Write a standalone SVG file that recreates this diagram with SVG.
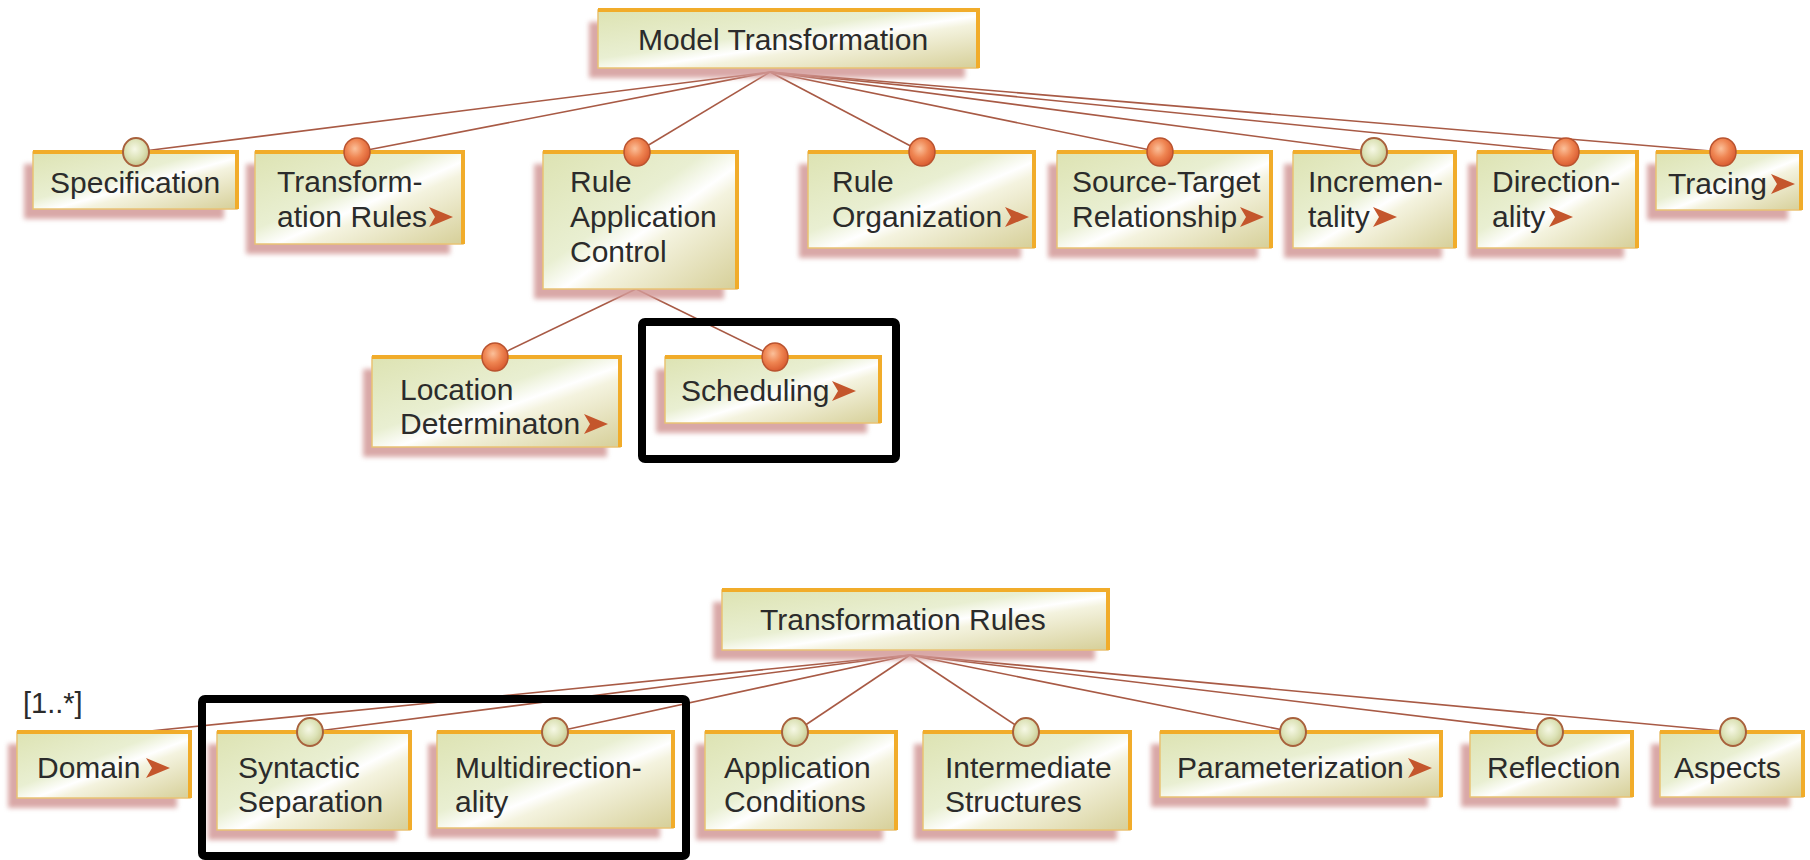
<svg xmlns="http://www.w3.org/2000/svg" xmlns:xlink="http://www.w3.org/1999/xlink" width="1810" height="860" viewBox="0 0 1810 860">
<defs>
<linearGradient id="gbox" x1="0" y1="0" x2="1" y2="1">
<stop offset="0" stop-color="#dde3b2"/>
<stop offset="0.42" stop-color="#e9efd2"/>
<stop offset="0.55" stop-color="#ffffff"/>
<stop offset="0.62" stop-color="#f4f3df"/>
<stop offset="1" stop-color="#d6cf98"/>
</linearGradient>
<radialGradient id="gor" cx="0.42" cy="0.38" r="0.65">
<stop offset="0" stop-color="#fbc09a"/>
<stop offset="0.5" stop-color="#ef8552"/>
<stop offset="1" stop-color="#d8592e"/>
</radialGradient>
<radialGradient id="glt" cx="0.45" cy="0.4" r="0.65">
<stop offset="0" stop-color="#f6f8e6"/>
<stop offset="0.55" stop-color="#dce2b6"/>
<stop offset="1" stop-color="#c3c188"/>
</radialGradient>
<filter id="blur" x="-10%" y="-20%" width="120%" height="140%">
<feGaussianBlur stdDeviation="2.5"/>
</filter>
<path id="arr" d="M0,-10 L24,0 L0,10 L6,0 Z"/>
</defs>
<style>
.sh{fill:#d39a98;opacity:0.85;filter:url(#blur)}
.bx{fill:url(#gbox);stroke:#e9c274;stroke-width:1.5}
.tr{fill:none;stroke:#f1ac2a;stroke-width:4}
.or{fill:url(#gor);stroke:#b9532f;stroke-width:1.5}
.lt{fill:url(#glt);stroke:#a8613c;stroke-width:2}
.t{font-family:"Liberation Sans",Arial,sans-serif;font-size:30px;fill:#2b2b2b}
.ar{fill:#c4562c}
.cn line{stroke:#a85a45;stroke-width:1.6}
.hl{fill:none;stroke:#000;stroke-width:8}
</style>
<rect width="1810" height="860" fill="#ffffff"/>

<g id="connectors" class="cn">
<line x1="770" y1="72" x2="136" y2="152"/>
<line x1="770" y1="72" x2="357" y2="152"/>
<line x1="770" y1="72" x2="637" y2="152"/>
<line x1="770" y1="72" x2="922" y2="152"/>
<line x1="770" y1="72" x2="1160" y2="152"/>
<line x1="770" y1="72" x2="1374" y2="152"/>
<line x1="770" y1="72" x2="1566" y2="152"/>
<line x1="770" y1="72" x2="1723" y2="152"/>
<line x1="636" y1="289" x2="495" y2="357"/>
<line x1="636" y1="289" x2="775" y2="357"/>
<line x1="910" y1="655" x2="140" y2="732"/>
<line x1="910" y1="655" x2="310" y2="732"/>
<line x1="910" y1="655" x2="555" y2="732"/>
<line x1="910" y1="655" x2="795" y2="732"/>
<line x1="910" y1="655" x2="1026" y2="732"/>
<line x1="910" y1="655" x2="1293" y2="732"/>
<line x1="910" y1="655" x2="1550" y2="732"/>
<line x1="910" y1="655" x2="1733" y2="732"/>
</g>

<g id="n-model-transformation">
<rect class="sh" x="589" y="22" width="376" height="56"/>
<rect class="bx" x="598" y="10" width="380" height="58"/>
<path class="tr" d="M598,10 H978 V68"/>
<text class="t" x="638" y="50">Model Transformation</text>
</g>

<g id="n-specification">
<rect class="sh" x="24" y="164" width="200" height="55"/>
<rect class="bx" x="33" y="152" width="204" height="57"/>
<path class="tr" d="M33,152 H237 V209"/>
<ellipse class="lt" cx="136" cy="152" rx="13" ry="14"/>
<text class="t" x="50" y="193">Specification</text>
</g>

<g id="n-transformation-rules-top">
<rect class="sh" x="246" y="164" width="204" height="90"/>
<rect class="bx" x="255" y="152" width="208" height="92"/>
<path class="tr" d="M255,152 H463 V244"/>
<ellipse class="or" cx="357" cy="152" rx="13" ry="14"/>
<text class="t" x="277" y="192">Transform-</text>
<text class="t" x="277" y="227">ation Rules</text>
<use href="#arr" class="ar" x="429" y="217"/>
</g>

<g id="n-rule-application-control">
<rect class="sh" x="534" y="164" width="190" height="135"/>
<rect class="bx" x="543" y="152" width="194" height="137"/>
<path class="tr" d="M543,152 H737 V289"/>
<ellipse class="or" cx="637" cy="152" rx="13" ry="14"/>
<text class="t" x="570" y="192">Rule</text>
<text class="t" x="570" y="227">Application</text>
<text class="t" x="570" y="262">Control</text>
</g>

<g id="n-rule-organization">
<rect class="sh" x="799" y="164" width="222" height="94"/>
<rect class="bx" x="808" y="152" width="226" height="96"/>
<path class="tr" d="M808,152 H1034 V248"/>
<ellipse class="or" cx="922" cy="152" rx="13" ry="14"/>
<text class="t" x="832" y="192">Rule</text>
<text class="t" x="832" y="227">Organization</text>
<use href="#arr" class="ar" x="1005" y="217"/>
</g>

<g id="n-source-target">
<rect class="sh" x="1048" y="164" width="210" height="94"/>
<rect class="bx" x="1057" y="152" width="214" height="96"/>
<path class="tr" d="M1057,152 H1271 V248"/>
<ellipse class="or" cx="1160" cy="152" rx="13" ry="14"/>
<text class="t" x="1072" y="192">Source-Target</text>
<text class="t" x="1072" y="227">Relationship</text>
<use href="#arr" class="ar" x="1240" y="217"/>
</g>

<g id="n-incrementality">
<rect class="sh" x="1284" y="164" width="158" height="94"/>
<rect class="bx" x="1293" y="152" width="162" height="96"/>
<path class="tr" d="M1293,152 H1455 V248"/>
<ellipse class="lt" cx="1374" cy="152" rx="13" ry="14"/>
<text class="t" x="1308" y="192">Incremen-</text>
<text class="t" x="1308" y="227">tality</text>
<use href="#arr" class="ar" x="1373" y="217"/>
</g>

<g id="n-directionality">
<rect class="sh" x="1468" y="164" width="156" height="94"/>
<rect class="bx" x="1477" y="152" width="160" height="96"/>
<path class="tr" d="M1477,152 H1637 V248"/>
<ellipse class="or" cx="1566" cy="152" rx="13" ry="14"/>
<text class="t" x="1492" y="192">Direction-</text>
<text class="t" x="1492" y="227">ality</text>
<use href="#arr" class="ar" x="1549" y="217"/>
</g>

<g id="n-tracing">
<rect class="sh" x="1647" y="164" width="141" height="56"/>
<rect class="bx" x="1656" y="152" width="145" height="58"/>
<path class="tr" d="M1656,152 H1801 V210"/>
<ellipse class="or" cx="1723" cy="152" rx="13" ry="14"/>
<text class="t" x="1668" y="194">Tracing</text>
<use href="#arr" class="ar" x="1771" y="184"/>
</g>

<g id="n-location-determination">
<rect class="sh" x="363" y="369" width="244" height="88"/>
<rect class="bx" x="372" y="357" width="248" height="90"/>
<path class="tr" d="M372,357 H620 V447"/>
<ellipse class="or" cx="495" cy="357" rx="13" ry="14"/>
<text class="t" x="400" y="400">Location</text>
<text class="t" x="400" y="434">Determinaton</text>
<use href="#arr" class="ar" x="584" y="424"/>
</g>

<g id="n-scheduling">
<rect class="sh" x="656" y="369" width="211" height="64"/>
<rect class="bx" x="665" y="357" width="215" height="66"/>
<path class="tr" d="M665,357 H880 V423"/>
<ellipse class="or" cx="775" cy="357" rx="13" ry="14"/>
<text class="t" x="681" y="401">Scheduling</text>
<use href="#arr" class="ar" x="832" y="391"/>
</g>

<g id="n-transformation-rules">
<rect class="sh" x="713" y="602" width="382" height="58"/>
<rect class="bx" x="722" y="590" width="386" height="60"/>
<path class="tr" d="M722,590 H1108 V650"/>
<text class="t" x="760" y="630">Transformation Rules</text>
</g>

<g id="multiplicity">
<text class="t" x="23" y="713" style="font-size:29px">[1..*]</text>
</g>

<g id="n-domain">
<rect class="sh" x="8" y="744" width="169" height="64"/>
<rect class="bx" x="17" y="732" width="173" height="66"/>
<path class="tr" d="M17,732 H190 V798"/>
<text class="t" x="37" y="778">Domain</text>
<use href="#arr" class="ar" x="146" y="768"/>
</g>

<g id="n-syntactic-separation">
<rect class="sh" x="208" y="744" width="189" height="96"/>
<rect class="bx" x="217" y="732" width="193" height="98"/>
<path class="tr" d="M217,732 H410 V830"/>
<ellipse class="lt" cx="310" cy="732" rx="13" ry="14"/>
<text class="t" x="238" y="778">Syntactic</text>
<text class="t" x="238" y="812">Separation</text>
</g>

<g id="n-multidirectionality">
<rect class="sh" x="428" y="744" width="232" height="94"/>
<rect class="bx" x="437" y="732" width="236" height="96"/>
<path class="tr" d="M437,732 H673 V828"/>
<ellipse class="lt" cx="555" cy="732" rx="13" ry="14"/>
<text class="t" x="455" y="778">Multidirection-</text>
<text class="t" x="455" y="812">ality</text>
</g>

<g id="n-application-conditions">
<rect class="sh" x="696" y="744" width="187" height="96"/>
<rect class="bx" x="705" y="732" width="191" height="98"/>
<path class="tr" d="M705,732 H896 V830"/>
<ellipse class="lt" cx="795" cy="732" rx="13" ry="14"/>
<text class="t" x="724" y="778">Application</text>
<text class="t" x="724" y="812">Conditions</text>
</g>

<g id="n-intermediate-structures">
<rect class="sh" x="914" y="744" width="203" height="96"/>
<rect class="bx" x="923" y="732" width="207" height="98"/>
<path class="tr" d="M923,732 H1130 V830"/>
<ellipse class="lt" cx="1026" cy="732" rx="13" ry="14"/>
<text class="t" x="945" y="778">Intermediate</text>
<text class="t" x="945" y="812">Structures</text>
</g>

<g id="n-parameterization">
<rect class="sh" x="1151" y="744" width="277" height="63"/>
<rect class="bx" x="1160" y="732" width="281" height="65"/>
<path class="tr" d="M1160,732 H1441 V797"/>
<ellipse class="lt" cx="1293" cy="732" rx="13" ry="14"/>
<text class="t" x="1177" y="778">Parameterization</text>
<use href="#arr" class="ar" x="1408" y="768"/>
</g>

<g id="n-reflection">
<rect class="sh" x="1461" y="744" width="158" height="63"/>
<rect class="bx" x="1470" y="732" width="162" height="65"/>
<path class="tr" d="M1470,732 H1632 V797"/>
<ellipse class="lt" cx="1550" cy="732" rx="13" ry="14"/>
<text class="t" x="1487" y="778">Reflection</text>
</g>

<g id="n-aspects">
<rect class="sh" x="1651" y="744" width="139" height="63"/>
<rect class="bx" x="1660" y="732" width="143" height="65"/>
<path class="tr" d="M1660,732 H1803 V797"/>
<ellipse class="lt" cx="1733" cy="732" rx="13" ry="14"/>
<text class="t" x="1674" y="778">Aspects</text>
</g>

<g id="highlights">
<rect class="hl" x="642" y="322" width="254" height="137" rx="3"/>
<rect class="hl" x="202" y="699" width="484" height="157" rx="3"/>
</g>
</svg>
